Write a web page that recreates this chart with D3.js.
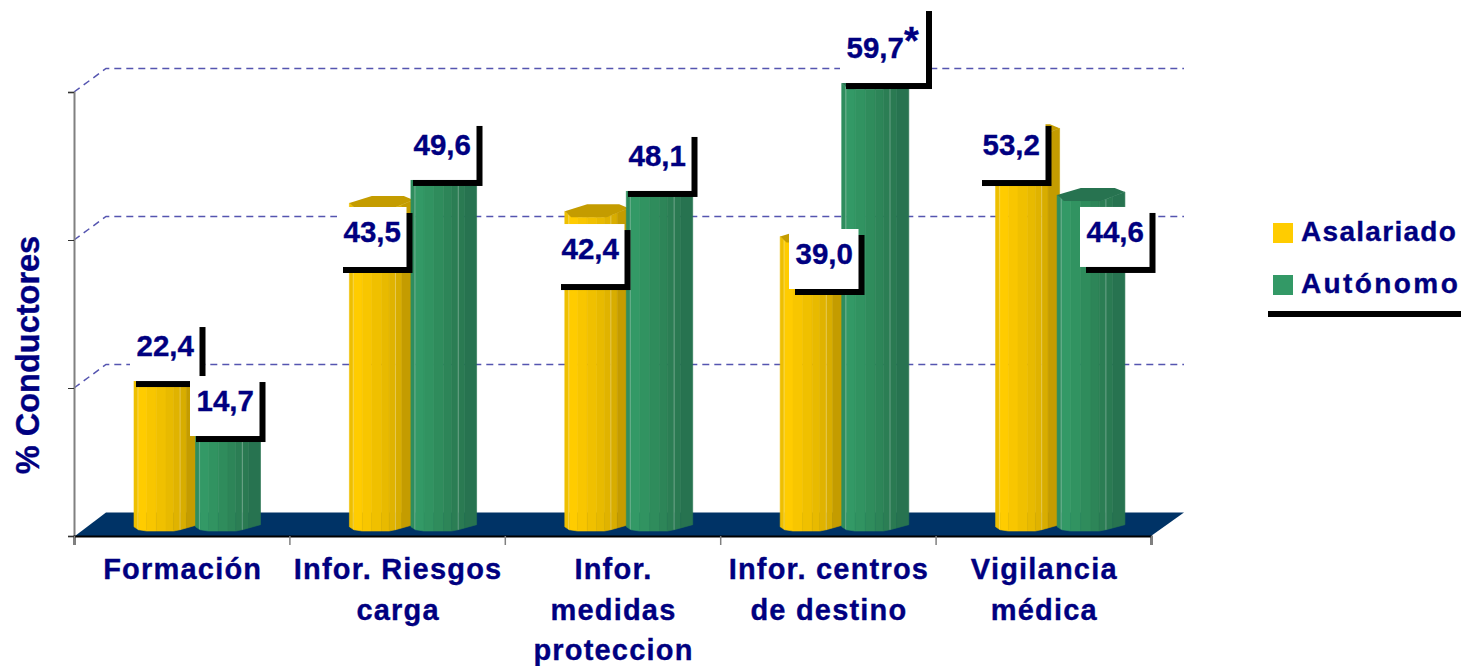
<!DOCTYPE html>
<html>
<head>
<meta charset="utf-8">
<script src="https://cdn.jsdelivr.net/npm/d3@7/dist/d3.min.js"></script>
<style>
  body { margin: 0; background: #fff; }
  text { font-family: "Liberation Sans", Arial, sans-serif; font-weight: bold; fill: #000080; stroke: #000080; stroke-width: 0.35; }
</style>
</head>
<body>
<svg id="chart" width="1461" height="666"></svg>
<script>
// Data
const categories = [
  ["Formación"],
  ["Infor. Riesgos", "carga"],
  ["Infor.", "medidas", "proteccion"],
  ["Infor. centros", "de destino"],
  ["Vigilancia", "médica"]
];
const seriesNames = ["Asalariado", "Autónomo"];
const asalariado = [22.4, 43.5, 42.4, 39.0, 53.2];
const autonomo = [14.7, 49.6, 48.1, 59.7, 44.6];
const yTicks = [0, 20, 40, 60];

// Look of the 3D columns: facet edges (fraction of width) and their shades
const facetEdges = [0, 0.07, 0.2, 0.35, 0.5, 0.62, 0.72, 0.82, 1];
const yellowShades = ["#eebf00", "#ffcc00", "#f8c600", "#f0c000", "#e8ba00", "#e0b300", "#d8ad00", "#c49c00"];
const greenShades = ["#2f8d5e", "#339966", "#319361", "#2f8c5c", "#2d8558", "#2b7e54", "#2a7a52", "#277350"];

// Hand placed labels in the original, so offsets from each column's top-left
const yellowLabelShift = [[-4, 15.8], [-12.4, 57.9], [-9.8, 66.8], [8.8, 46.6], [-19.6, 42.7]];
const greenLabelShift = [[-5.5, 13.8], [-3.9, 16], [-4.3, 15.9], [-1.7, -6.2], [22.9, 66]];

const svg = d3.select("#chart");

const x = d3.scaleBand().domain(d3.range(categories.length)).range([74, 1151]);
const xEdges = d3.scaleLinear().domain([0, categories.length]).range([74, 1151]);
const y = d3.scaleLinear().domain([0, 60]).range([536, 92]);

const backShift = { x: 32, y: -23.5 };  // depth of the floor
const barLift = -5;                     // columns stand a little into the floor

// Floor
svg.append("path")
  .attr("fill", "#003366")
  .attr("d", d3.line()([
    [x.range()[0] + 1, y(0)],
    [x.range()[0] + backShift.x, y(0) + backShift.y],
    [x.range()[1] + backShift.x + 1, y(0) + backShift.y],
    [x.range()[1], y(0)]
  ]) + "Z");

// Dashed gridlines, slanted on the side wall
const grid = svg.append("g");
yTicks.filter((d) => d > 0).forEach((d) => {
  grid.append("path")
    .attr("fill", "none")
    .attr("stroke", "#5555b0")
    .attr("stroke-width", 1.5)
    .attr("stroke-dasharray", "7 5")
    .attr("d", d3.line()([
      [x.range()[0], y(d)],
      [x.range()[0] + backShift.x, y(d) + backShift.y],
      [x.range()[1] + backShift.x + 1, y(d) + backShift.y]
    ]));
});

// Axes
const yAxis = svg.append("g")
  .attr("transform", `translate(${x.range()[0]},0)`)
  .call(d3.axisLeft(y).tickValues(yTicks).tickSize(6).tickFormat(""));
yAxis.select(".domain").attr("stroke", "#808080").attr("stroke-width", 2);
yAxis.selectAll("line").attr("stroke", "#333");

const xAxis = svg.append("g")
  .attr("transform", `translate(0,${y(0)})`)
  .call(d3.axisBottom(xEdges).ticks(categories.length).tickSize(9).tickFormat(""));
xAxis.select(".domain").attr("stroke", "#000").attr("stroke-width", 2);
xAxis.selectAll("line").attr("stroke", "#808080").attr("stroke-width", 1.5);

// Height of the column outline at fraction f of its width
function outline(f) {
  if (f < 0.1) return -6 + (f / 0.1) * 6;
  if (f <= 0.65) return 0;
  return -((f - 0.65) / 0.35) * 9;
}

function drawColumn(g, left, width, value, shades) {
  const top = y(value) + barLift;
  const base = y(0) + barLift;

  shades.forEach((shade, k) => {
    const f0 = facetEdges[k];
    const f1 = facetEdges[k + 1];
    g.append("path")
      .attr("fill", shade)
      .attr("stroke", shade)
      .attr("stroke-width", 0.6)
      .attr("d", d3.line()([
        [left + f0 * width, top + outline(f0)],
        [left + f1 * width, top + outline(f1)],
        [left + f1 * width, base + outline(f1) * 0.7],
        [left + f0 * width, base + outline(f0) * 0.7]
      ]) + "Z");
  });

  // thin highlights on the facet edges
  [0.06, 0.72].forEach((f) => {
    g.append("line")
      .attr("x1", left + f * width).attr("x2", left + f * width)
      .attr("y1", top + outline(f)).attr("y2", base + outline(f) * 0.7)
      .attr("stroke", "#fff").attr("stroke-opacity", 0.3);
  });

  // top cap
  g.append("path")
    .attr("fill", shades[shades.length - 1])
    .attr("d", d3.line()([
      [left, top - 6],
      [left + 0.1 * width, top],
      [left + 0.65 * width, top],
      [left + width, top - 9],
      [left + 0.85 * width, top - 13],
      [left + 0.35 * width, top - 13]
    ]) + "Z");
}

const yellowLeft = (i) => x(i) + 60;
const greenLeft = (i) => x(i) + 121.5;

const columns = svg.append("g");
categories.forEach((c, i) => {
  drawColumn(columns, yellowLeft(i), 64, asalariado[i], yellowShades);
  drawColumn(columns, greenLeft(i), 65 + i * 0.7, autonomo[i], greenShades);
});

// Value labels: white box with a black drop shadow
function drawLabel(g, boxX, boxBottom, value, star) {
  const w = star ? 86 : 69.5;
  const h = star ? 78 : 60;
  g.append("rect").attr("x", boxX + 6).attr("y", boxBottom - h + 6)
    .attr("width", w).attr("height", h).attr("fill", "#000");
  g.append("rect").attr("x", boxX).attr("y", boxBottom - h)
    .attr("width", w).attr("height", h).attr("fill", "#fff");
  const t = g.append("text")
    .attr("x", boxX + 6.5)
    .attr("y", boxBottom - 25)
    .attr("font-size", 29.5)
    .text(d3.format(".1f")(value).replace(".", ","));
  if (star) t.append("tspan").attr("font-size", 38).attr("dy", -4).text("*");
}

const labels = svg.append("g");
categories.forEach((c, i) => {
  const ys = yellowLabelShift[i];
  const gs = greenLabelShift[i];
  drawLabel(labels, yellowLeft(i) + ys[0], y(asalariado[i]) + barLift + ys[1], asalariado[i], false);
  drawLabel(labels, greenLeft(i) + gs[0], y(autonomo[i]) + barLift + gs[1], autonomo[i], autonomo[i] === d3.max(autonomo));
});

// Category labels
const catLabels = svg.append("g");
categories.forEach((lines, i) => {
  lines.forEach((line, k) => {
    catLabels.append("text")
      .attr("x", x(i) + x.bandwidth() / 2 + 1)
      .attr("y", 579 + k * 40.5)
      .attr("text-anchor", "middle")
      .attr("font-size", 29)
      .attr("letter-spacing", 1.2)
      .text(line);
  });
});

// Y axis title
svg.append("text")
  .attr("transform", "translate(39,355) rotate(-90)")
  .attr("text-anchor", "middle")
  .attr("font-size", 32.5)
  .text("% Conductores");

// Legend
const legendSpacing = [1.3, 2.4];
const legend = svg.append("g");
seriesNames.forEach((name, i) => {
  legend.append("rect")
    .attr("x", 1273).attr("y", 223 + i * 52)
    .attr("width", 20).attr("height", 20)
    .attr("fill", i === 0 ? "#ffcc00" : "#339966");
  legend.append("text")
    .attr("x", 1301).attr("y", 241 + i * 51.5)
    .attr("font-size", 28)
    .attr("letter-spacing", legendSpacing[i])
    .text(name);
});
legend.append("rect")
  .attr("x", 1268).attr("y", 311)
  .attr("width", 193).attr("height", 6)
  .attr("fill", "#000");
</script>
</body>
</html>
